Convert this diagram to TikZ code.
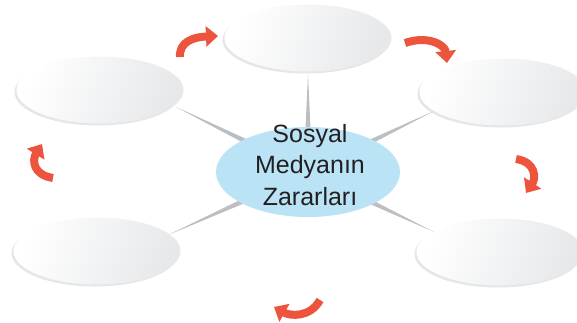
\documentclass[tikz,border=0pt]{standalone}
\usepackage{fontspec}
\setmainfont{Liberation Sans}
\usetikzlibrary{shapes.geometric,arrows.meta,calc}
\definecolor{spokegray}{RGB}{188,190,194}
\definecolor{centerblue}{RGB}{186,228,246}
\definecolor{outeredge}{RGB}{230,232,234}
\definecolor{shadowgray}{RGB}{212,214,216}
\definecolor{arrowred}{RGB}{236,84,62}
\definecolor{textdark}{RGB}{35,31,32}
\tikzset{
  outer/.style={ellipse, minimum width=167pt, minimum height=67pt, inner sep=0pt,
    left color=white, right color=outeredge, shading angle=70},
  outershadow/.style={ellipse, minimum width=167pt, minimum height=67pt, inner sep=0pt,
    fill=shadowgray, fill opacity=0.6},
  centre/.style={ellipse, minimum width=184pt, minimum height=90pt, inner sep=0pt,
    fill=centerblue},
  cycarrow/.style={draw=arrowred, line width=8pt,
    -{Triangle[width=20pt,length=12pt]}},
}
\begin{document}
\begin{tikzpicture}[x=1pt,y=-1pt]
\useasboundingbox (0,0) rectangle (577,322);
\clip (0,0) rectangle (577,322);
% tip points of spokes
\coordinate (tT) at (308,74);
\coordinate (tTL) at (176,107);
\coordinate (tTR) at (434,111);
\coordinate (tBL) at (168,235);
\coordinate (tBR) at (434,232);
\coordinate (cc) at (308,172);
% spokes
\foreach \t in {tT,tTL,tTR,tBL,tBR}{
  \fill[spokegray] ($(cc)!4.5pt!90:(\t)$) -- (\t) -- ($(cc)!4.5pt!-90:(\t)$) -- cycle;
}
% shadows
\node[outershadow] (s1) at (306,40) {};
\node[outershadow] (s2) at (501,94) {};
\node[outershadow] (s3) at (98,92) {};
\node[outershadow] (s4) at (95,253) {};
\node[outershadow] (s5) at (498,254) {};
% outer ellipses
\node[outer] (eT) at (308,38) {};
\node[outer] (eTR) at (503,92) {};
\node[outer] (eTL) at (100,90) {};
\node[outer] (eBL) at (97,251) {};
\node[outer] (eBR) at (500,252) {};
% centre
\node[centre] (c) at (cc) {};
\node[font=\fontsize{25}{31.5}\selectfont, text=textdark, align=center, inner sep=0pt] (lbl) at (310,165)
  {Sosyal\\Medyanın\\Zararları};
% cycle arrows
\coordinate (a1s) at (180,57); \coordinate (a1e) at (218,36);
\draw[cycarrow] (a1s) .. controls (179,42) and (193,37) .. (a1e);
\coordinate (a2s) at (405,43); \coordinate (a2e) at (447,63);
\draw[cycarrow] (a2s) .. controls (428,35) and (445,45) .. (a2e);
\coordinate (a3s) at (516,159); \coordinate (a3e) at (526,193);
\draw[cycarrow] (a3s) .. controls (536,162) and (536,178) .. (a3e);
\coordinate (a4s) at (320,300); \coordinate (a4e) at (274,307);
\draw[cycarrow] (a4s) .. controls (310,318) and (290,316) .. (a4e);
\coordinate (a5s) at (53,178); \coordinate (a5e) at (42,144);
\draw[cycarrow] (a5s) .. controls (33,175) and (32,160) .. (a5e);
\end{tikzpicture}
\end{document}
